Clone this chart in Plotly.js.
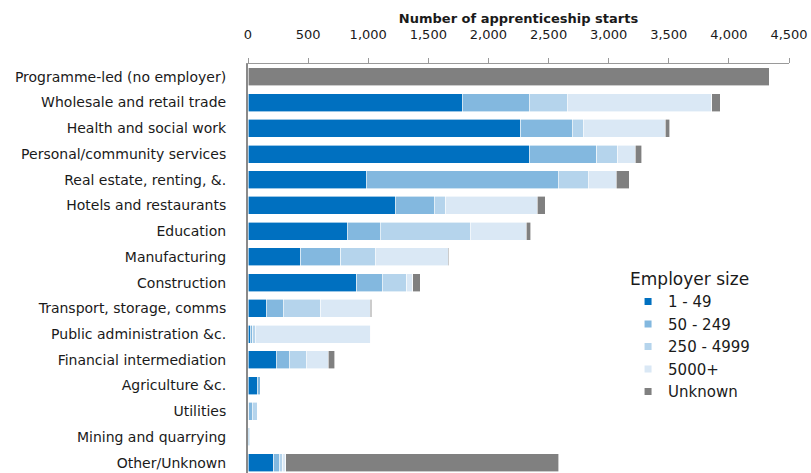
<!DOCTYPE html>
<html>
<head>
<meta charset="utf-8">
<script src="https://cdn.plot.ly/plotly-3.0.1.min.js"></script>
<style>html,body{margin:0;padding:0;background:#fff;}#chart{width:811px;height:473px;}</style>
</head>
<body>
<div id="chart"></div>
<script>
const categories = [
  "Programme-led (no employer)",
  "Wholesale and retail trade",
  "Health and social work",
  "Personal/community services",
  "Real estate, renting, &.",
  "Hotels and restaurants",
  "Education",
  "Manufacturing",
  "Construction",
  "Transport, storage, comms",
  "Public administration &c.",
  "Financial intermediation",
  "Agriculture &c.",
  "Utilities",
  "Mining and quarrying",
  "Other/Unknown"
];
const seriesNames = ["1 - 49", "50 - 249", "250 - 4999", "5000+", "Unknown"];
const size1to49     = [0, 1782, 2268, 2340,  982, 1223,  827, 438, 903, 151,  20, 236, 78,  5, 3,  214];
const size50to249   = [0,  558,  431,  562, 1599,  326,  275, 335, 212, 142,  20, 108, 22, 32, 8,   44];
const size250to4999 = [0,  317,   88,  175,  248,   96,  746, 284, 207, 314,  20, 141,  5, 38, 6,   30];
const size5000plus  = [0, 1202,  682,  145,  236,  761,  468, 607,  49, 410, 962, 183,  3,  0, 0,   25];
const sizeUnknown   = [4335, 69,  37,   54,  105,   67,   36,  12,  60,  13,   0,  52,  0,  0, 0, 2271];
const xTickVals = [0, 500, 1000, 1500, 2000, 2500, 3000, 3500, 4000, 4500];
const xTickText = ["0", "500", "1,000", "1,500", "2,000", "2,500", "3,000", "3,500", "4,000", "4,500"];

const colors = ["#0070C0", "#83B8DF", "#B5D4EC", "#DAE8F5", "#808080"];
const seriesValues = [size1to49, size50to249, size250to4999, size5000plus, sizeUnknown];
const FONT = "DejaVu Sans, sans-serif";

const traces = [];
seriesValues.forEach((vals, i) => {
  traces.push({
    type: "bar", orientation: "h",
    y: categories, x: vals, name: seriesNames[i],
    marker: {color: colors[i], line: {color: "#ffffff", width: 0.6}},
    showlegend: false, hoverinfo: "x+name"
  });
});
seriesNames.forEach((n, i) => {
  traces.push({
    type: "scatter", mode: "markers", x: [null], y: [null], name: n,
    marker: {symbol: "square", size: 7, color: colors[i]},
    showlegend: true, hoverinfo: "skip"
  });
});

const layout = {
  width: 811, height: 473,
  margin: {l: 247.6, r: 21.6, t: 64, b: 0, pad: 0},
  paper_bgcolor: "#ffffff", plot_bgcolor: "#ffffff",
  barmode: "stack", bargap: 0.3,
  font: {family: FONT, size: 13, color: "#1a1a1a"},
  xaxis: {
    side: "top", range: [0, 4500], tickvals: xTickVals, ticktext: xTickText,
    showgrid: false, zeroline: false, showline: true, linecolor: "#9a9a9a", linewidth: 1,
    ticks: "outside", ticklen: 5, tickcolor: "#9a9a9a", tickwidth: 1,
    ticklabelstandoff: 14,
    tickfont: {family: FONT, size: 13, color: "#1a1a1a"},
    title: {text: "<b>Number of apprenticeship starts</b>", font: {family: FONT, size: 13, color: "#1a1a1a"}, standoff: 0},
    fixedrange: true
  },
  yaxis: {
    type: "category", categoryorder: "array", categoryarray: categories,
    range: [15.4, -0.5],
    showgrid: false, zeroline: false, showline: true, linecolor: "#8a8a8a", linewidth: 2,
    ticks: "", ticklabelstandoff: 17,
    tickfont: {family: FONT, size: 14, color: "#1a1a1a"},
    fixedrange: true
  },
  legend: {
    x: 0.7025, xanchor: "left", y: 0.513, yanchor: "top",
    traceorder: "normal", bgcolor: "rgba(0,0,0,0)",
    font: {family: FONT, size: 15, color: "#1a1a1a"},
    title: {text: "Employer size", font: {family: FONT, size: 17, color: "#1a1a1a"}, side: "top"},
    itemwidth: 30
  },
  showlegend: true
};

Plotly.newPlot("chart", traces, layout, {displayModeBar: false, staticPlot: true});
</script>
</body>
</html>
